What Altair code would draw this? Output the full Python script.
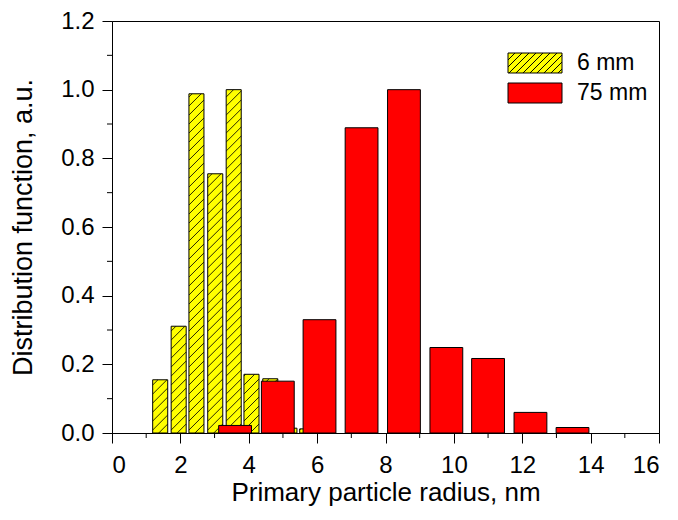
import altair as alt
import pandas as pd

# ---- data ----
radius_6mm = [1.41, 1.95, 2.47, 3.02, 3.56, 4.08, 4.63, 5.19, 5.71]
dist_6mm = [0.155, 0.311, 0.988, 0.755, 1.0, 0.171, 0.158, 0.014, 0.012]

radius_75mm = [3.6, 4.85, 6.07, 7.3, 8.54, 9.78, 11.0, 12.24, 13.47]
dist_75mm = [0.022, 0.151, 0.33, 0.889, 1.0, 0.249, 0.217, 0.06, 0.016]

series_labels = ["6 mm", "75 mm"]
x_ticks = [0, 2, 4, 6, 8, 10, 12, 14, 16]
y_ticks = [0.0, 0.2, 0.4, 0.6, 0.8, 1.0, 1.2]
x_minor = [1, 3, 5, 7, 9, 11, 13, 15]
y_minor = [0.1, 0.3, 0.5, 0.7, 0.9, 1.1]

# ---- layout / style ----
W, H = 547, 412
FONT = "Liberation Sans"
YELLOW, RED = "#ffff00", "#ff0000"
HW6 = 0.22    # half width of the yellow bars (x units)
HW75 = 0.48   # half width of the red bars
px_x = W / 16.0
px_y = H / 1.2
kx = px_x / px_y          # 45 degree slope in data units
dy = 9.0 / px_y           # hatch spacing (9 px vertical)

df6 = pd.DataFrame({"r": radius_6mm, "v": dist_6mm})
df75 = pd.DataFrame({"r": radius_75mm, "v": dist_75mm})

xs = alt.Scale(domain=[0, 16], nice=False, zero=False)
ys = alt.Scale(domain=[0, 1.2], nice=False)

xaxis = alt.Axis(values=x_ticks, format="d", title="Primary particle radius, nm",
                 tickSize=10, labelPadding=10, labelFontSize=24, titleFontSize=26,
                 titleFontWeight="normal", titleBaseline="alphabetic", titleY=67,
                 grid=False, domainColor="black", tickColor="black", labelColor="black",
                 titleColor="black")
yaxis = alt.Axis(values=y_ticks, format=".1f", title="Distribution function, a.u.",
                 tickSize=10, labelPadding=8, labelFontSize=24, titleFontSize=27,
                 titleFontWeight="normal", titleBaseline="alphabetic", titleX=-81,
                 grid=False, domainColor="black", tickColor="black", labelColor="black",
                 titleColor="black")

bars6 = alt.Chart(df6).transform_calculate(
    x0=f"datum.r - {HW6}", x1=f"datum.r + {HW6}"
).mark_rect(fill=YELLOW, stroke="black", strokeWidth=1).encode(
    x=alt.X("x0:Q", scale=xs, axis=xaxis),
    x2="x1:Q",
    y=alt.Y("v:Q", scale=ys, axis=yaxis),
    y2=alt.datum(0),
)

hatch6 = alt.Chart(df6).transform_calculate(
    x0=f"datum.r - {HW6}",
    w=f"{2 * HW6}",
    rr=f"{2 * HW6} * {kx}",
).transform_calculate(
    ks=f"sequence(0, ceil((datum.v + datum.rr) / {dy}) + 1)"
).transform_flatten(["ks"]).transform_calculate(
    a=f"datum.ks * {dy} - datum.rr"
).transform_calculate(
    ya="max(datum.a, 0)", yb="min(datum.a + datum.rr, datum.v)"
).transform_filter("datum.yb > datum.ya").transform_calculate(
    xa="datum.x0 + (datum.ya - datum.a) / datum.rr * datum.w",
    xb="datum.x0 + (datum.yb - datum.a) / datum.rr * datum.w",
).mark_rule(color="#111100", strokeWidth=0.9).encode(
    x=alt.X("xa:Q", scale=xs), x2="xb:Q",
    y=alt.Y("ya:Q", scale=ys), y2="yb:Q",
)

bars75 = alt.Chart(df75).transform_calculate(
    x0=f"datum.r - {HW75}", x1=f"datum.r + {HW75}"
).mark_rect(fill=RED, stroke="black", strokeWidth=1).encode(
    x=alt.X("x0:Q", scale=xs), x2="x1:Q",
    y=alt.Y("v:Q", scale=ys), y2=alt.datum(0),
)

# minor ticks
xminor = alt.Chart(pd.DataFrame({"t": x_minor})).mark_rule(color="black").encode(
    x=alt.X("t:Q", scale=xs), y=alt.value(H), y2=alt.value(H + 5)
)
yminor = alt.Chart(pd.DataFrame({"t": y_minor})).mark_rule(color="black").encode(
    y=alt.Y("t:Q", scale=ys), x=alt.value(0), x2=alt.value(-5)
)

# ---- manual legend ----
hh = 10.0 / 27.0
s = 7.0 / 27.0
segs = []
x = -1 - 2 * hh
while x < 1:
    t0 = max(0.0, (-1 - x) / (2 * hh))
    t1 = min(1.0, (1 - x) / (2 * hh))
    if t1 > t0:
        segs.append(f"M{x + 2*hh*t0:.3f},{hh - 2*hh*t0:.3f}L{x + 2*hh*t1:.3f},{hh - 2*hh*t1:.3f}")
    x += s
hatch_path = f"M-1,{-hh:.3f}L1,{-hh:.3f}L1,{hh:.3f}L-1,{hh:.3f}Z" + "".join(segs)

LX, LY1, LY2 = 423, 42, 72
leg_df1 = pd.DataFrame({"label": [series_labels[0]]})
leg_df2 = pd.DataFrame({"label": [series_labels[1]]})

leg_sw1 = alt.Chart(leg_df1).mark_point(
    shape=hatch_path, size=54 * 54, filled=True, fill=YELLOW, stroke="black",
    strokeWidth=1, opacity=1
).encode(x=alt.value(LX), y=alt.value(LY1))
leg_sw2 = alt.Chart(leg_df2).mark_rect(fill=RED, stroke="black", strokeWidth=1).encode(
    x=alt.value(LX - 27), x2=alt.value(LX + 27), y=alt.value(LY2 - 10), y2=alt.value(LY2 + 10)
)
leg_t1 = alt.Chart(leg_df1).mark_text(align="left", baseline="middle", fontSize=23,
                                      font=FONT, color="black").encode(
    x=alt.value(LX + 42), y=alt.value(LY1), text="label:N")
leg_t2 = alt.Chart(leg_df2).mark_text(align="left", baseline="middle", fontSize=23,
                                      font=FONT, color="black").encode(
    x=alt.value(LX + 42), y=alt.value(LY2), text="label:N")

chart = alt.layer(
    bars6, hatch6, bars75, xminor, yminor, leg_sw1, leg_sw2, leg_t1, leg_t2
).properties(
    width=W, height=H,
    autosize=alt.AutoSizeParams(type="none"),
    padding={"left": 112, "top": 21, "right": 19, "bottom": 87},
    background="white",
).configure_view(
    stroke="black", strokeWidth=1
).configure_axis(
    labelFont=FONT, titleFont=FONT
)

chart.save("out.html", embed_options={"renderer": "svg", "actions": False})
